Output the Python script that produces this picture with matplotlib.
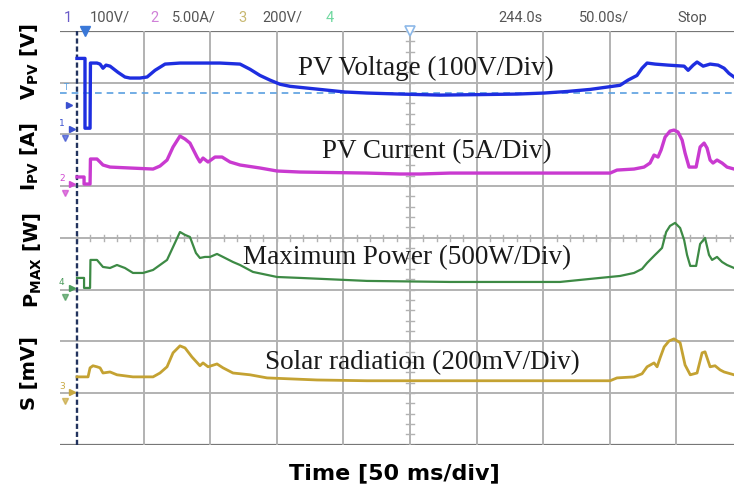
import matplotlib
matplotlib.use("Agg")
import matplotlib.pyplot as plt
import numpy as np

plt.rcParams["mathtext.fontset"] = "custom"
plt.rcParams["mathtext.rm"] = "DejaVu Sans:bold"
plt.rcParams["mathtext.it"] = "DejaVu Sans:bold"
plt.rcParams["mathtext.bf"] = "DejaVu Sans:bold"

# ---- scope settings ----
MS_PER_DIV = 50          # horizontal scale, ms per division
N_XDIV, N_YDIV = 10, 8

# channel: (scale per division, ground level in divisions from bottom)
V_PER_DIV, V_GND = 100, 6.10
A_PER_DIV, A_GND = 5, 5.04
W_PER_DIV, W_GND = 500, 3.03
MV_PER_DIV, MV_GND = 200, 1.02
TRIG_LEVEL_V = 70

# ---- CH1: PV voltage [V] ----
t_volt = [0, 6.0, 6.0, 9.8, 10.1, 15.0, 17.3, 19.5, 21.8, 24.8, 30.8, 36.0, 39.8, 47.3,
          52.6, 58.6, 66.1, 77.3, 92.3, 107.4, 122.4, 129.9, 137.4, 144.9, 152.4, 159.9,
          167.4, 182.4, 201.2, 217.7, 242.5, 272.5, 302.6, 330.4, 350.6, 367.9, 385.2,
          396.4, 407.7, 413.7, 420.4, 424.2, 428.0, 434.0, 443.8, 455.8, 458.8, 462.6,
          465.5, 470.1, 475.3, 481.3, 485.8, 489.5, 493.3]
volt = [137, 137, 2, 2, 128, 128, 126, 118, 124, 122, 110, 101, 99, 99,
        101, 114, 126, 128, 128, 128, 126, 116, 104, 95, 87, 83,
        81, 77, 72, 70, 68, 66, 67, 68, 70, 73, 77,
        81, 85, 95, 104, 118, 128, 126, 124, 122, 114, 124,
        130, 122, 126, 124, 118, 108, 101]

# ---- CH2: PV current [A] ----
t_curr = [0, 5.3, 5.3, 9.8, 10.1, 15.0, 17.3, 19.5, 24.8, 39.8, 57.1, 62.3, 67.6, 72.1,
          77.3, 81.1, 84.8, 90.1, 92.3, 94.6, 98.4, 103.6, 108.9, 114.9, 122.4, 137.4,
          150.2, 167.4, 217.7, 242.5, 257.5, 280.0, 400.2, 405.4, 418.2, 425.7, 430.2,
          433.2, 436.2, 438.5, 441.5, 445.2, 448.2, 451.2, 454.3, 456.5, 459.5, 464.8,
          467.8, 470.8, 473.0, 475.3, 477.5, 480.5, 484.3, 488.0, 493.3]
curr = [0.68, 0.68, 0, 0, 2.42, 2.42, 2.13, 1.84, 1.64, 1.55, 1.45, 1.74, 2.32, 3.58,
        4.64, 4.35, 3.96, 2.61, 2.13, 2.51, 2.13, 2.61, 2.61, 2.13, 1.84, 1.55,
        1.26, 1.16, 1.06, 0.97, 0.97, 1.06, 1.06, 1.35, 1.45, 1.64, 2.03,
        2.80, 2.61, 3.29, 4.54, 5.12, 5.22, 5.03, 4.25, 3.00, 1.64, 1.64,
        3.58, 3.96, 3.48, 2.32, 2.03, 2.32, 2.03, 1.64, 1.45]

# ---- CH4: maximum power [W] ----
t_pow = [0, 5.3, 5.3, 9.8, 10.1, 15.0, 19.5, 24.8, 30.0, 36.0, 42.0, 49.6, 57.1, 62.3,
         67.6, 72.1, 77.3, 81.1, 84.8, 89.3, 92.3, 96.1, 99.9, 105.1, 109.6, 117.1,
         122.4, 132.1, 150.2, 167.4, 217.7, 280.0, 362.6, 392.7, 407.7, 418.2, 424.2,
         428.0, 433.9, 436.2, 439.2, 442.3, 445.2, 449.0, 452.8, 455.8, 458.0, 460.4,
         464.8, 467.8, 471.5, 474.5, 476.8, 480.5, 484.3, 488.0, 493.3]
power = [97, 97, 0, 0, 271, 271, 203, 193, 222, 193, 145, 145, 174, 222,
         271, 396, 541, 513, 493, 338, 290, 300, 300, 329, 300, 251,
         222, 155, 106, 97, 68, 58, 58, 97, 116, 145, 184,
         242, 319, 348, 387, 541, 600, 629, 580, 464, 319, 213,
         213, 425, 484, 319, 271, 300, 251, 222, 193]

# ---- CH3: solar radiation [mV] ----
t_sol = [0, 8.3, 9.8, 12.0, 15.0, 17.3, 19.5, 24.8, 30.0, 42.0, 57.1, 62.3, 67.6, 72.1,
         77.3, 81.1, 86.3, 92.3, 94.6, 98.4, 105.1, 109.6, 117.1, 129.9, 142.7, 180.2,
         217.7, 400.2, 405.4, 418.2, 424.2, 428.0, 433.2, 435.5, 437.8, 440.8, 444.5,
         448.2, 452.8, 456.5, 460.4, 465.5, 469.3, 471.5, 475.3, 479.0, 482.8, 485.8, 493.3]
solar = [58, 58, 93, 101, 97, 93, 73, 77, 66, 58, 58, 73, 97, 151,
         178, 170, 135, 101, 112, 97, 108, 93, 73, 66, 54, 46,
         43, 43, 54, 58, 70, 97, 112, 97, 132, 174, 197,
         205, 190, 104, 66, 73, 151, 155, 97, 101, 85, 77, 66]

# ---- figure ----
W, H = 734, 495
fig = plt.figure(figsize=(W / 100, H / 100), dpi=100)
fig.patch.set_facecolor("white")

left_px, right_px, top_px, bot_px = 60, 734, 31, 444.6
ax = fig.add_axes([left_px / W, 1 - bot_px / H, (right_px - left_px) / W, (bot_px - top_px) / H])
ax.set_facecolor("white")
px_per_ms = 66.6 / MS_PER_DIV
ax.set_xlim((left_px - 77) / px_per_ms, (right_px - 77) / px_per_ms)
ax.set_ylim(0, N_YDIV)
ax.axis("off")

grid_c = "#b2b2b2"
for k in range(1, N_YDIV):
    ax.axhline(k, color=grid_c, lw=1.4, zorder=1)
for k in (0, N_YDIV):
    ax.axhline(k, color="#777777", lw=1.6, zorder=1)
for k in range(1, N_XDIV):
    ax.plot([k * MS_PER_DIV] * 2, [0, N_YDIV], color=grid_c, lw=1.4, zorder=1)

# minor ticks on the centre lines
tx = np.arange(0, N_XDIV * MS_PER_DIV + 1, MS_PER_DIV / 5)
for x in tx:
    ax.plot([x, x], [N_YDIV / 2 - 0.06, N_YDIV / 2 + 0.06], color=grid_c, lw=1.0, zorder=1)
ty = np.arange(0, N_YDIV + 0.01, 0.2)
xc = N_XDIV / 2 * MS_PER_DIV
for y in ty:
    ax.plot([xc - 3, xc + 3], [y, y], color=grid_c, lw=1.0, zorder=1)

# trigger time marker and trigger level
ax.plot([0, 0], [0, N_YDIV], color="#22335e", lw=1.7, ls=(0, (2.2, 1.2)), zorder=3)
trig_y = V_GND + TRIG_LEVEL_V / V_PER_DIV
ax.axhline(trig_y, color="#5aa0e0", lw=1.2, ls=(0, (4, 3)), zorder=2)
ax.plot([6], [N_YDIV], marker="v", ms=7, color="#3a78d8", clip_on=False, zorder=5)
ax.plot([xc], [N_YDIV], marker="v", ms=7, mfc="white", mec="#8cb8e8", mew=1.2,
        clip_on=False, zorder=5)
ax.text(-8.5, trig_y + 0.02, "T", color="#5aa0e0", fontsize=6, ha="center", va="bottom")
ax.plot([-6], [6.57], marker=">", ms=5, color="#3a50d0", clip_on=False, zorder=5)

# traces
ax.plot(t_volt, V_GND + np.array(volt) / V_PER_DIV, color="#1e2ee0", lw=2.4, zorder=4)
ax.plot(t_curr, A_GND + np.array(curr) / A_PER_DIV, color="#c93ad0", lw=2.4, zorder=4)
ax.plot(t_pow, W_GND + np.array(power) / W_PER_DIV, color="#3d8a45", lw=1.6, zorder=4)
ax.plot(t_sol, MV_GND + np.array(solar) / MV_PER_DIV, color="#c4a232", lw=2.0, zorder=4)

# channel ground markers
gnd = [("1", V_GND, "#3a50d0"), ("2", A_GND, "#d048d0"),
       ("4", W_GND, "#4a9a5a"), ("3", MV_GND, "#c8a840")]
for lab, g, c in gnd:
    ax.text(-11.5, g + 0.02, lab, color=c, fontsize=6.5, ha="center", va="bottom")
    ax.plot([-3.5], [g], marker=">", ms=5, color=c, clip_on=False, zorder=5)
    ax.plot([-9.0], [g - 0.17], marker="v", ms=4, color=c, alpha=0.7, clip_on=False, zorder=5)

# annotations inside the screen
serif = "Liberation Serif"
def px_text(x, y_base, s):
    ax.text(x / W, 1 - y_base / H, s, transform=fig.transFigure, fontsize=19.5,
            family=serif, color="#1a1a1a", ha="left", va="baseline", zorder=6)

px_text(298, 75, "PV Voltage (100V/Div)")
px_text(322, 158, "PV Current (5A/Div)")
px_text(243, 264, "Maximum Power (500W/Div)")
px_text(265, 369, "Solar radiation (200mV/Div)")

# scope header line
hdr_font = ["Liberation Sans Narrow", "Roboto"]
hdr = [(64, "1", "#6a5ac8"), (90, "100V/", "#555555"), (150, "2", "#d080d8"),
       (172, "5.00A/", "#555555"), (238, "3", "#c8b870"), (262, "200V/", "#555555"),
       (326, "4", "#70d8a0"), (498, "244.0s", "#555555"), (579, "50.00s/", "#555555"),
       (677, "Stop", "#555555")]
for x, s, c in hdr:
    fig.text(x / W, 1 - 18 / H, s, color=c, fontsize=10.5, family=hdr_font,
             ha="left", va="center")

# axis captions
lbl = dict(rotation=90, fontsize=14, family="DejaVu Sans", weight="bold", color="black",
           ha="center", va="center")
fig.text(30 / W, 1 - 62 / H, r"$\mathrm{V_{PV}}$ [V]", **lbl)
fig.text(30 / W, 1 - 157 / H, r"$\mathrm{I_{PV}}$ [A]", **lbl)
fig.text(33 / W, 1 - 260 / H, r"$\mathrm{P_{MAX}}$ [W]", **lbl)
fig.text(30 / W, 1 - 373 / H, "S [mV]", **lbl)
fig.text(394 / W, 1 - 473 / H, "Time [50 ms/div]", fontsize=16, family="DejaVu Sans",
         weight="bold", color="black", ha="center", va="center")

fig.savefig("out.png", dpi=100, facecolor="white")
